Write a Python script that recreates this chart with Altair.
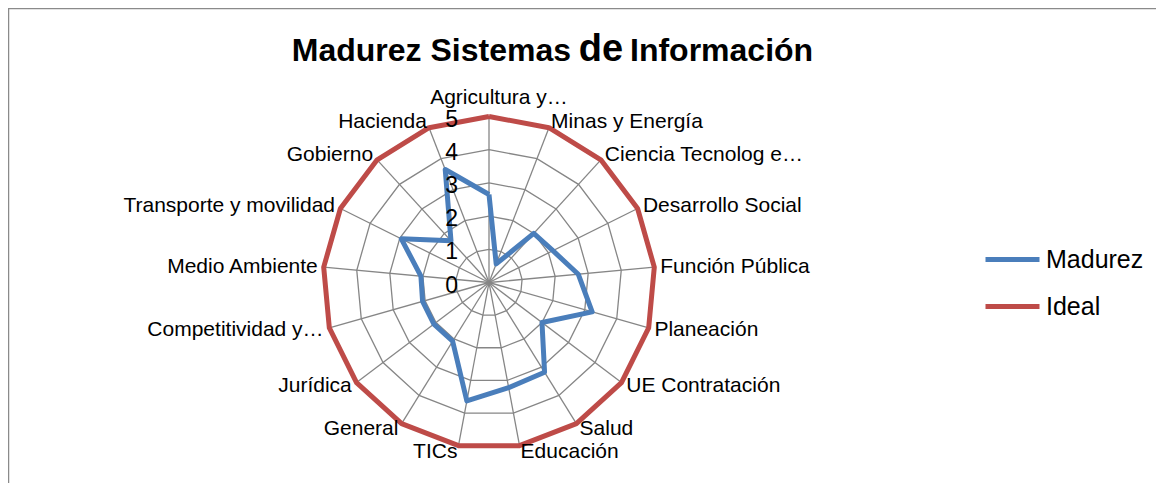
import altair as alt
import pandas as pd

# ---------------- data ----------------
categories = ["Agricultura y…", "Minas y Energía", "Ciencia Tecnolog e…", "Desarrollo Social",
              "Función Pública", "Planeación", "UE Contratación", "Salud", "Educación", "TICs",
              "General", "Jurídica", "Competitividad y…", "Medio Ambiente",
              "Transporte y movilidad", "Gobierno", "Hacienda"]
madurez = [2.65, 0.6, 2.0, 2.15, 2.7, 3.23, 2.0, 3.18, 3.22, 3.63, 2.08, 2.08, 2.08, 2.06, 2.95, 1.7, 3.65]
ideal = [5] * 17
series_names = ["Madurez", "Ideal"]
series_colors = ["#4A7EBB", "#BE4B48"]
ring_levels = [1, 2, 3, 4, 5]
tick_labels = [0, 1, 2, 3, 4, 5]
title_parts = ["Madurez Sistemas", "de", "Información"]

N = len(categories)

# ---------------- tables ----------------
rows = []
for name, vals in zip(series_names, [madurez, ideal]):
    for i in range(N + 1):
        rows.append({"series": name, "idx": i, "cat": categories[i % N], "value": vals[i % N]})
lines_df = pd.DataFrame(rows)

grid_df = pd.DataFrame([{"level": lv, "idx": i} for lv in ring_levels for i in range(N + 1)])
cat_df = pd.DataFrame({"idx": list(range(N)), "cat": categories})
tick_df = pd.DataFrame({"level": tick_labels})

# ---------------- layout ----------------
W, H = 1148, 475
unit = 33.2
cx, cy = 481, 274.5
xs = alt.Scale(domain=[-cx / unit, (W - cx) / unit], nice=False, zero=False)
ys = alt.Scale(domain=[-(H - cy) / unit, cy / unit], nice=False, zero=False)
FONT = "Liberation Sans"
GRID = "#868686"

theta = f"datum.idx * 2 * PI / {N}"

def X(field):
    return alt.X(field, type="quantitative", scale=xs, axis=None)

def Y(field):
    return alt.Y(field, type="quantitative", scale=ys, axis=None)

rings = alt.Chart(grid_df).transform_calculate(
    px=f"datum.level * sin({theta})", py=f"datum.level * cos({theta})"
).mark_line(color=GRID, strokeWidth=1.3).encode(
    x=X("px"), y=Y("py"), detail="level:N", order="idx:Q"
)

spokes = alt.Chart(cat_df).transform_calculate(
    x0="0", y0="0", px=f"5 * sin({theta})", py=f"5 * cos({theta})"
).mark_rule(color=GRID, strokeWidth=1.3).encode(
    x=X("x0"), y=Y("y0"), x2="px:Q", y2="py:Q"
)

series_lines = alt.Chart(lines_df).transform_calculate(
    px=f"datum.value * sin({theta})", py=f"datum.value * cos({theta})"
).mark_line(strokeWidth=5, strokeJoin="round").encode(
    x=X("px"), y=Y("py"), order="idx:Q",
    detail="series:N",
    color=alt.Color("series:N", scale=alt.Scale(domain=series_names, range=series_colors),
                    legend=alt.Legend(title=None)),
)

lab_base = alt.Chart(cat_df).transform_calculate(
    s=f"sin({theta})", px=f"5.18 * sin({theta})", py=f"5.18 * cos({theta})"
)
lab_left = lab_base.transform_filter("datum.s > 0.05").mark_text(
    align="left", baseline="middle", font=FONT, fontSize=21, color="black"
).encode(x=X("px"), y=Y("py"), text="cat:N")
lab_right = lab_base.transform_filter("datum.s < -0.05").mark_text(
    align="right", baseline="middle", font=FONT, fontSize=21, color="black"
).encode(x=X("px"), y=Y("py"), text="cat:N")
lab_top = lab_base.transform_filter("abs(datum.s) <= 0.05").mark_text(
    align="center", baseline="bottom", dx=10, dy=-3, font=FONT, fontSize=21, color="black"
).encode(x=X("px"), y=Y("py"), text="cat:N")

ticks = alt.Chart(tick_df).transform_calculate(
    px="-0.93", py="datum.level"
).mark_text(align="right", baseline="middle", dy=3, font=FONT, fontSize=23, color="black").encode(
    x=X("px"), y=Y("py"), text="level:Q"
)

t1 = alt.Chart(pd.DataFrame({"t": [title_parts[0]]})).mark_text(
    align="right", baseline="alphabetic", font=FONT, fontSize=32, fontWeight="bold", color="black"
).encode(x=alt.value(563), y=alt.value(53), text="t:N")
t2 = alt.Chart(pd.DataFrame({"t": [title_parts[1]]})).mark_text(
    align="center", baseline="alphabetic", font=FONT, fontSize=38, fontWeight="bold", color="black"
).encode(x=alt.value(593), y=alt.value(53), text="t:N")
t3 = alt.Chart(pd.DataFrame({"t": [title_parts[2]]})).mark_text(
    align="left", baseline="alphabetic", font=FONT, fontSize=32, fontWeight="bold", color="black"
).encode(x=alt.value(622), y=alt.value(53), text="t:N")

border_left = alt.Chart(pd.DataFrame({"a": [0]})).mark_rule(color="#8a8a8a", strokeWidth=1.5).encode(
    x=alt.value(0.5), y=alt.value(0), y2=alt.value(H)
)
border_top = alt.Chart(pd.DataFrame({"a": [0]})).mark_rule(color="#8a8a8a", strokeWidth=1.5).encode(
    x=alt.value(0), x2=alt.value(W), y=alt.value(0.5)
)

chart = alt.layer(
    border_left, border_top, rings, spokes, series_lines,
    lab_left, lab_right, lab_top, ticks, t1, t2, t3
).properties(
    width=W, height=H, padding=0, autosize=alt.AutoSizeParams(type="none")
).configure_view(stroke=None).configure_legend(
    orient="none", legendX=975, legendY=222,
    symbolType="stroke", symbolSize=2916, symbolStrokeWidth=5,
    labelFont=FONT, labelFontSize=25, labelColor="black", labelOffset=4,
    rowPadding=4, padding=0
)

chart.save("out.html", embed_options={"renderer": "svg", "actions": False})
